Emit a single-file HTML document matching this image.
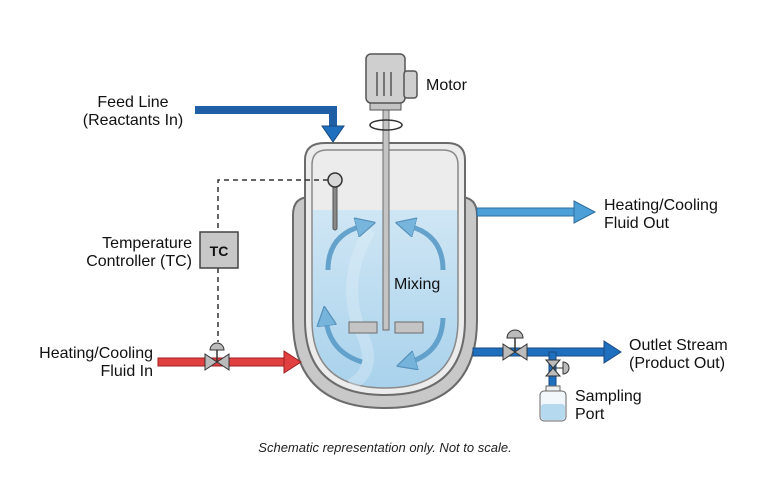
<!DOCTYPE html>
<html><head><style>
body{margin:0;background:#fff;}
svg{display:block;font-family:"Liberation Sans",Arial,sans-serif;}
</style></head><body>
<svg width="770" height="500" viewBox="0 0 770 500" xmlns="http://www.w3.org/2000/svg">
<defs>
<linearGradient id="liq" x1="0" y1="0" x2="0" y2="1"><stop offset="0" stop-color="#cfe6f4"/><stop offset="1" stop-color="#a9d2ec"/></linearGradient>
<marker id="ah" viewBox="0 0 10 10" refX="3" refY="5" markerWidth="4" markerHeight="4" orient="auto"><path d="M0,0 L10,5 L0,10 Z" fill="#6fb0da" stroke="#4a88b4" stroke-width="0.6"/></marker>
</defs>
<!-- jacket -->
<path d="M293,215 Q293,197 310,197 L460,197 Q477,197 477,215 L477,320 Q477,408 385,408 Q293,408 293,320 Z" fill="#c8c8c8" stroke="#6b6b6b" stroke-width="2"/>
<!-- inner vessel -->
<path d="M305,160 Q305,143 325,143 L447,143 Q465,143 465,160 L465,320 Q465,395 385,395 Q305,395 305,320 Z" fill="#ececec" stroke="#6b6b6b" stroke-width="2"/>
<path d="M312,210 L458,210 L458,320 Q458,388 385,388 Q312,388 312,320 Z" fill="url(#liq)"/>
<path d="M312,165 Q312,150 327,150 L443,150 Q458,150 458,165 L458,320 Q458,388 385,388 Q312,388 312,320 Z" fill="none" stroke="#8a8a8a" stroke-width="1.5"/>
<path d="M370,230 Q340,280 360,330 Q380,370 350,385" stroke="#e4f1f9" stroke-width="12" fill="none" opacity="0.35"/>
<!-- mixing arrows -->
<g fill="none" stroke="#5a9cc8" stroke-width="5" opacity="0.9" marker-end="url(#ah)">
<path d="M328,270 Q328,235 362,226"/>
<path d="M443,270 Q443,235 409,226"/>
<path d="M362,362 Q330,352 326,320"/>
<path d="M443,318 Q442,352 410,362"/>
</g>
<text x="394" y="289" font-size="16" fill="#111">Mixing</text>
<!-- thermometer -->
<rect x="333" y="186" width="4" height="44" rx="2" fill="#888" stroke="#555"/>
<circle cx="335" cy="180" r="7" fill="#d8d8d8" stroke="#333" stroke-width="1.5"/>
<path d="M328,180 L218,180 L218,342" stroke="#333" stroke-width="1.5" stroke-dasharray="5,4" fill="none"/>
<rect x="200" y="232" width="38" height="36" fill="#c8c8c8" stroke="#444" stroke-width="1.5"/>
<text x="219" y="256" font-size="14" font-weight="bold" text-anchor="middle" fill="#111">TC</text>
<!-- shaft & motor -->
<rect x="383" y="108" width="6" height="222" fill="#c4c4c4" stroke="#6b6b6b"/>
<rect x="349" y="322" width="28" height="11" fill="#c4c4c4" stroke="#6b6b6b"/>
<rect x="395" y="322" width="28" height="11" fill="#c4c4c4" stroke="#6b6b6b"/>
<rect x="370" y="102" width="31" height="8" fill="#c4c4c4" stroke="#555"/>
<rect x="366" y="54" width="39" height="49" rx="5" fill="#cfcfcf" stroke="#555" stroke-width="1.5"/>
<rect x="404" y="71" width="13" height="27" rx="3" fill="#cfcfcf" stroke="#555" stroke-width="1.5"/>
<g stroke="#555" stroke-width="1.5"><line x1="377" y1="72" x2="377" y2="96"/><line x1="384" y1="72" x2="384" y2="96"/><line x1="391" y1="72" x2="391" y2="96"/></g>
<ellipse cx="386" cy="125" rx="16" ry="5" fill="none" stroke="#333" stroke-width="1.5"/>
<text x="426" y="90" font-size="16" fill="#111">Motor</text>
<!-- feed line -->
<path d="M195,110 L333,110 L333,128" stroke="#1f5fa6" stroke-width="8" fill="none"/>
<polygon points="322,126 344,126 333,142" fill="#1f6fbf" stroke="#174a80"/>
<text x="133" y="107" font-size="16" text-anchor="middle" fill="#111">Feed Line</text>
<text x="133" y="125" font-size="16" text-anchor="middle" fill="#111">(Reactants In)</text>
<!-- heating out -->
<rect x="477" y="208" width="98" height="8" fill="#4d9fd8" stroke="#2f6fa0"/>
<polygon points="574,201 595,212 574,223" fill="#4d9fd8" stroke="#2f6fa0"/>
<text x="604" y="210" font-size="16" fill="#111">Heating/Cooling</text>
<text x="604" y="228" font-size="16" fill="#111">Fluid Out</text>
<!-- red in -->
<rect x="158" y="358" width="127" height="8" fill="#e04040" stroke="#a02020"/>
<polygon points="284,351 301,362 284,373" fill="#e04040" stroke="#a02020"/>
<polygon points="205,354 217,362 205,370" fill="#bbb" stroke="#333"/>
<polygon points="229,354 217,362 229,370" fill="#bbb" stroke="#333"/>
<line x1="217" y1="362" x2="217" y2="350" stroke="#333" stroke-width="1.5"/>
<path d="M210,350 A7,7 0 0 1 224,350 Z" fill="#bbb" stroke="#333"/>
<text x="153" y="358" font-size="16" text-anchor="end" fill="#111">Heating/Cooling</text>
<text x="153" y="376" font-size="16" text-anchor="end" fill="#111">Fluid In</text>
<text x="192" y="248" font-size="16" text-anchor="end" fill="#111">Temperature</text>
<text x="192" y="266" font-size="16" text-anchor="end" fill="#111">Controller (TC)</text>
<!-- outlet -->
<rect x="473" y="348" width="132" height="8" fill="#1f6fbf" stroke="#174a80"/>
<polygon points="604,341 621,352 604,363" fill="#1f6fbf" stroke="#174a80"/>
<rect x="549" y="352" width="7" height="34" fill="#1f6fbf" stroke="#174a80"/>
<polygon points="503,344 515,352 503,360" fill="#bbb" stroke="#333"/>
<polygon points="527,344 515,352 527,360" fill="#bbb" stroke="#333"/>
<line x1="515" y1="352" x2="515" y2="338" stroke="#333" stroke-width="1.5"/>
<path d="M507,338 A8,8 0 0 1 523,338 Z" fill="#bbb" stroke="#333"/>
<polygon points="546,360 560,360 553,368" fill="#bbb" stroke="#333"/>
<polygon points="546,376 560,376 553,368" fill="#bbb" stroke="#333"/>
<line x1="553" y1="368" x2="563" y2="368" stroke="#333"/>
<path d="M563,362 A6,6 0 0 1 563,374 Z" fill="#bbb" stroke="#333"/>
<rect x="546" y="386" width="14" height="6" fill="#eee" stroke="#666"/>
<rect x="540" y="391" width="26" height="30" rx="4" fill="#f2f7fb" stroke="#666"/>
<rect x="541" y="404" width="24" height="16" rx="3" fill="#b5daf0"/>
<text x="629" y="350" font-size="16" fill="#111">Outlet Stream</text>
<text x="629" y="368" font-size="16" fill="#111">(Product Out)</text>
<text x="575" y="401" font-size="16" fill="#111">Sampling</text>
<text x="575" y="419" font-size="16" fill="#111">Port</text>
<text x="385" y="452" font-size="13" font-style="italic" text-anchor="middle" fill="#222">Schematic representation only. Not to scale.</text>
</svg>
</body></html>
